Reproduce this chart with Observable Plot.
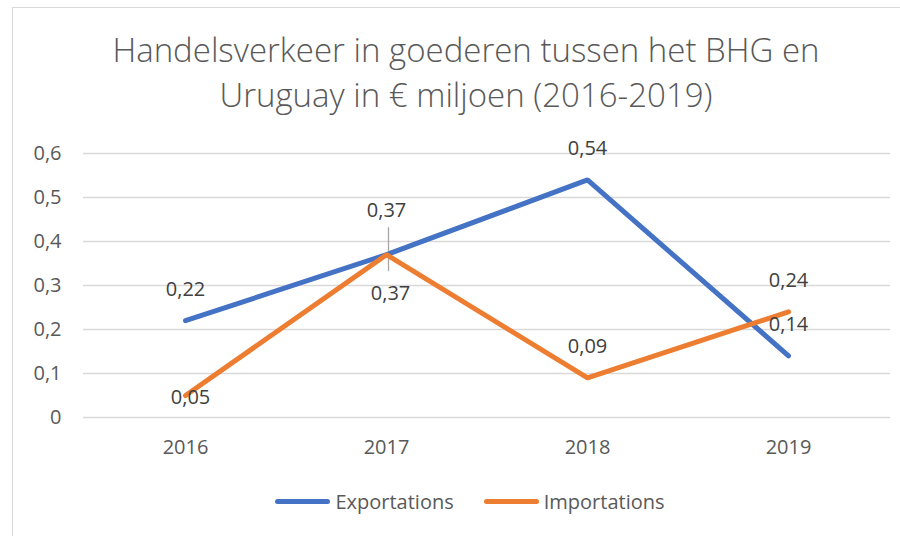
<!DOCTYPE html>
<html>
<head>
<meta charset="utf-8">
<script src="https://cdn.jsdelivr.net/npm/d3@7"></script>
<script src="https://cdn.jsdelivr.net/npm/@observablehq/plot@0.6"></script>
<style>
  html, body { margin: 0; padding: 0; background: #fff; width: 900px; height: 536px; overflow: hidden; }
  body { position: relative; font-family: "Open Sans", sans-serif; }
  #frame { position: absolute; left: 12px; top: 7px; width: 1000px; height: 700px; border: 1.5px solid #d9d9d9; box-sizing: border-box; }
  #title { position: absolute; left: 0; width: 932px; top: 27px; text-align: center; font-size: 33px; font-weight: 300; line-height: 45px; color: #595959; }
  #chart { position: absolute; left: 0; top: 130px; }
  #legend { position: absolute; top: 488px; left: 0; width: 940px; display: flex; justify-content: center; align-items: center; font-size: 20px; color: #595959; }
  .item { display: flex; align-items: center; }
  .item + .item { margin-left: 30px; }
  .sw { width: 55px; height: 5px; border-radius: 3px; margin-right: 5px; }
</style>
</head>
<body>
<div id="frame"></div>
<div id="title">Handelsverkeer in goederen tussen het BHG en<br>Uruguay in € miljoen (2016-2019)</div>
<div id="chart"></div>
<div id="legend"></div>
<script>
const years = ["2016", "2017", "2018", "2019"];
const exportations = [0.22, 0.37, 0.54, 0.14];
const importations = [0.05, 0.37, 0.09, 0.24];
const seriesNames = ["Exportations", "Importations"];
const seriesColors = ["#4472C4", "#ED7D31"];
const yTicks = [0, 0.1, 0.2, 0.3, 0.4, 0.5, 0.6];

const data = [];
years.forEach((y, i) => data.push({year: y, value: exportations[i], series: seriesNames[0], i}));
years.forEach((y, i) => data.push({year: y, value: importations[i], series: seriesNames[1], i}));

const fmt = v => String(v).replace(".", ",");
const textColor = "#404040";
const labelFont = 20;

// label placement groups
const isExp = d => d.series === seriesNames[0];
const above = data.filter(d => !(d.year === "2017") && !(d.year === "2016" && !isExp(d)));
const expMid = data.filter(d => d.year === "2017" && isExp(d));
const impMid = data.filter(d => d.year === "2017" && !isExp(d));
const impFirst = data.filter(d => d.year === "2016" && !isExp(d));

const chart = Plot.plot({
  width: 900,
  height: 345,
  marginLeft: 83,
  marginRight: 10,
  marginTop: 23,
  marginBottom: 58,
  style: {fontFamily: "Open Sans, sans-serif", fontSize: "20px", color: "#595959", background: "transparent"},
  x: {type: "point", domain: years, padding: 0.5, label: null, tickSize: 0, tickPadding: 22},
  y: {domain: [0, 0.6], ticks: yTicks, tickFormat: fmt, label: null, tickSize: 0, tickPadding: 22},
  color: {domain: seriesNames, range: seriesColors},
  marks: [
    Plot.ruleY(yTicks, {stroke: "#d9d9d9", strokeWidth: 1.5}),
    Plot.ruleX(expMid, {x: "year", y1: "value", y2: "value", insetTop: -27, insetBottom: 3, dx: 2, stroke: "#a6a6a6", strokeWidth: 1.3}),
    Plot.ruleX(impMid, {x: "year", y1: "value", y2: "value", insetTop: 3, insetBottom: -17, dx: 2, stroke: "#a6a6a6", strokeWidth: 1.3}),
    Plot.line(data, {x: "year", y: "value", stroke: "series", z: "series", strokeWidth: 5, strokeLinejoin: "miter", strokeLinecap: "round"}),
    Plot.text(above, {x: "year", y: "value", text: d => fmt(d.value), dy: -31, fill: textColor, fontSize: labelFont}),
    Plot.text(expMid, {x: "year", y: "value", text: d => fmt(d.value), dy: -44, fill: textColor, fontSize: labelFont}),
    Plot.text(impMid, {x: "year", y: "value", text: d => fmt(d.value), dy: 39, dx: 4, fill: textColor, fontSize: labelFont}),
    Plot.text(impFirst, {x: "year", y: "value", text: d => fmt(d.value), dy: 2, dx: 5, fill: textColor, fontSize: labelFont})
  ]
});
document.getElementById("chart").appendChild(chart);

const legend = document.getElementById("legend");
seriesNames.forEach((name, k) => {
  const item = document.createElement("div");
  item.className = "item";
  const sw = document.createElement("div");
  sw.className = "sw";
  sw.style.background = seriesColors[k];
  const label = document.createElement("span");
  label.textContent = name;
  item.appendChild(sw);
  item.appendChild(label);
  legend.appendChild(item);
});
</script>
</body>
</html>
